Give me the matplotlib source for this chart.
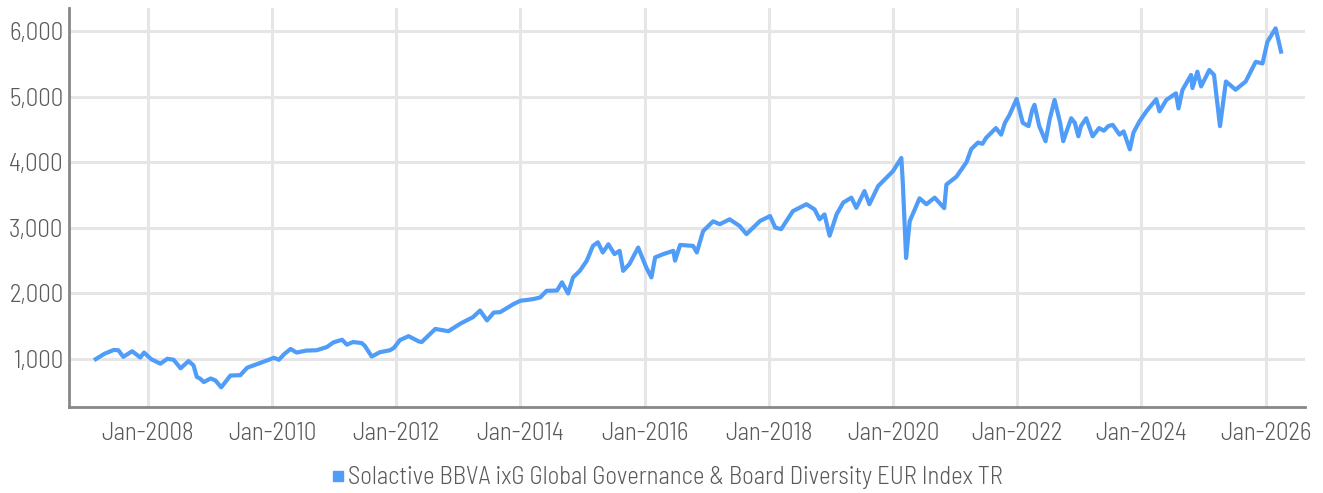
import pandas as pd
import matplotlib.pyplot as plt
import matplotlib.dates as mdates
from matplotlib.ticker import FuncFormatter, FixedLocator

# values (approximate)
dates = [
    '2007-03-01', '2007-04-20', '2007-06-15', '2007-07-12', '2007-08-10', '2007-10-01',
    '2007-11-18', '2007-12-10', '2008-01-20', '2008-03-15', '2008-04-25', '2008-06-01',
    '2008-07-12', '2008-08-28', '2008-09-26', '2008-10-15', '2008-11-05', '2008-11-25',
    '2009-01-05', '2009-02-02', '2009-03-08', '2009-05-01', '2009-06-28', '2009-08-08',
    '2009-10-22', '2010-01-12', '2010-02-10', '2010-03-15', '2010-04-20', '2010-05-25',
    '2010-07-22', '2010-09-20', '2010-11-20', '2010-12-28', '2011-02-17', '2011-03-17',
    '2011-04-22', '2011-06-12', '2011-07-01', '2011-07-31', '2011-08-10', '2011-09-27',
    '2011-11-25', '2011-12-18', '2012-01-23', '2012-03-14', '2012-05-12', '2012-05-30',
    '2012-08-18', '2012-11-03', '2013-01-12', '2013-03-28', '2013-05-08', '2013-06-18',
    '2013-07-28', '2013-09-03', '2013-11-22', '2014-01-01', '2014-02-05', '2014-03-18',
    '2014-04-27', '2014-06-03', '2014-08-04', '2014-09-02', '2014-10-08', '2014-11-06',
    '2014-12-16', '2015-01-26', '2015-03-03', '2015-04-01', '2015-04-30', '2015-06-02',
    '2015-07-08', '2015-08-07', '2015-08-28', '2015-10-04', '2015-11-24', '2016-01-11',
    '2016-02-10', '2016-03-03', '2016-04-20', '2016-06-18', '2016-06-28', '2016-07-28',
    '2016-10-12', '2016-11-03', '2016-12-10', '2017-02-07', '2017-03-18', '2017-05-15',
    '2017-07-12', '2017-08-22', '2017-11-10', '2018-01-08', '2018-02-07', '2018-03-14',
    '2018-05-22', '2018-08-10', '2018-09-27', '2018-10-26', '2018-11-24', '2018-12-24',
    '2019-02-03', '2019-03-14', '2019-05-01', '2019-05-30', '2019-07-17', '2019-08-15',
    '2019-10-05', '2019-11-22', '2020-01-01', '2020-02-19', '2020-02-28', '2020-03-18',
    '2020-04-08', '2020-06-05', '2020-07-15', '2020-09-02', '2020-10-28', '2020-11-10',
    '2021-01-08', '2021-03-08', '2021-04-05', '2021-05-15', '2021-06-10', '2021-07-01',
    '2021-08-28', '2021-09-28', '2021-10-20', '2021-11-17', '2021-12-28', '2022-02-02',
    '2022-03-08', '2022-03-30', '2022-04-12', '2022-05-10', '2022-06-16', '2022-07-10',
    '2022-08-08', '2022-09-10', '2022-09-28', '2022-10-15', '2022-11-14', '2022-12-05',
    '2022-12-26', '2023-01-10', '2023-02-10', '2023-03-20', '2023-04-27', '2023-05-25',
    '2023-06-20', '2023-07-16', '2023-08-25', '2023-09-18', '2023-10-25', '2023-11-15',
    '2023-12-20', '2024-01-30', '2024-03-28', '2024-04-16', '2024-05-27', '2024-07-22',
    '2024-08-06', '2024-08-29', '2024-10-19', '2024-10-27', '2024-11-25', '2024-12-17',
    '2025-02-03', '2025-03-03', '2025-04-07', '2025-05-12', '2025-07-08', '2025-09-05',
    '2025-11-03', '2025-12-13', '2026-01-11', '2026-02-28', '2026-04-01',
]
index_tr = [
    1000, 1080, 1140, 1135, 1035, 1120,
    1025, 1100, 1000, 930, 1005, 990,
    860, 970, 905, 730, 700, 650,
    705, 675, 570, 750, 755, 870,
    940, 1020, 990, 1080, 1155, 1100,
    1130, 1135, 1185, 1255, 1295, 1220,
    1260, 1245, 1200, 1080, 1040, 1105,
    1135, 1170, 1290, 1350, 1270, 1260,
    1460, 1425, 1540, 1640, 1740, 1590,
    1710, 1715, 1840, 1890, 1900, 1915,
    1940, 2040, 2045, 2170, 2000, 2245,
    2345, 2500, 2725, 2780, 2625, 2750,
    2600, 2650, 2345, 2450, 2700, 2395,
    2245, 2550, 2600, 2650, 2500, 2740,
    2725, 2625, 2950, 3100, 3055, 3130,
    3030, 2905, 3105, 3180, 3005, 2980,
    3255, 3360, 3280, 3130, 3205, 2880,
    3205, 3385, 3460, 3305, 3560, 3360,
    3635, 3760, 3865, 4065, 3660, 2540,
    3100, 3450, 3360, 3460, 3300, 3660,
    3780, 4000, 4200, 4300, 4280, 4370,
    4520, 4420, 4600, 4725, 4965, 4600,
    4550, 4800, 4875, 4550, 4320, 4650,
    4950, 4600, 4320, 4450, 4670, 4600,
    4395, 4550, 4670, 4395, 4520, 4480,
    4550, 4570, 4420, 4470, 4195, 4450,
    4620, 4775, 4960, 4775, 4950, 5050,
    4820, 5100, 5330, 5130, 5380, 5155,
    5405, 5330, 4550, 5230, 5105, 5230,
    5530, 5505, 5835, 6040, 5685,
]
series_name = 'Solactive BBVA ixG Global Governance & Board Diversity EUR Index TR'
y_ticks = [1000, 2000, 3000, 4000, 5000, 6000]
x_tick_years = list(range(2008, 2027, 2))

df = pd.DataFrame({'date': pd.to_datetime(dates), 'value': index_tr})

plt.rcParams['font.family'] = ['Barlow Semi Condensed', 'Liberation Sans Narrow', 'DejaVu Sans']
plt.rcParams['font.weight'] = 300

line_color = '#4f9cf9'
text_color = '#595959'

fig = plt.figure(figsize=(13.23, 4.93), dpi=100)
ax = fig.add_axes([0.0522, 0.1744, 0.9342, 0.8094])

ax.plot(df['date'], df['value'], color=line_color, lw=3.0, label=series_name)

ax.set_ylim(270, 6350)
ax.set_xlim(pd.Timestamp('2006-09-25'), pd.Timestamp('2026-08-20'))
ax.yaxis.set_major_locator(FixedLocator(y_ticks))
ax.yaxis.set_major_formatter(FuncFormatter(lambda v, p: f'{int(v):,}'))
ax.xaxis.set_major_locator(FixedLocator([mdates.date2num(pd.Timestamp(f'{y}-01-01')) for y in x_tick_years]))
ax.xaxis.set_major_formatter(mdates.DateFormatter('%b-%Y'))

ax.grid(True, color='#e6e6e6', lw=2.2)
ax.set_axisbelow(True)
for s in ['top', 'right']:
    ax.spines[s].set_visible(False)
for s in ['left', 'bottom']:
    ax.spines[s].set_color('#888888')
    ax.spines[s].set_linewidth(2)
ax.tick_params(axis='both', length=0, labelsize=18, colors=text_color)
ax.tick_params(axis='y', pad=4)
ax.tick_params(axis='x', pad=11)

handles = [plt.Line2D([], [], marker='s', color=line_color, ls='none', markersize=7.5)]
fig.legend(handles, [series_name], loc='center', bbox_to_anchor=(0.504, 0.031),
           frameon=False, fontsize=17.8, handletextpad=0.1, labelcolor=text_color,
           handlelength=0.6, borderpad=0)

fig.savefig('out.png', dpi=100)
